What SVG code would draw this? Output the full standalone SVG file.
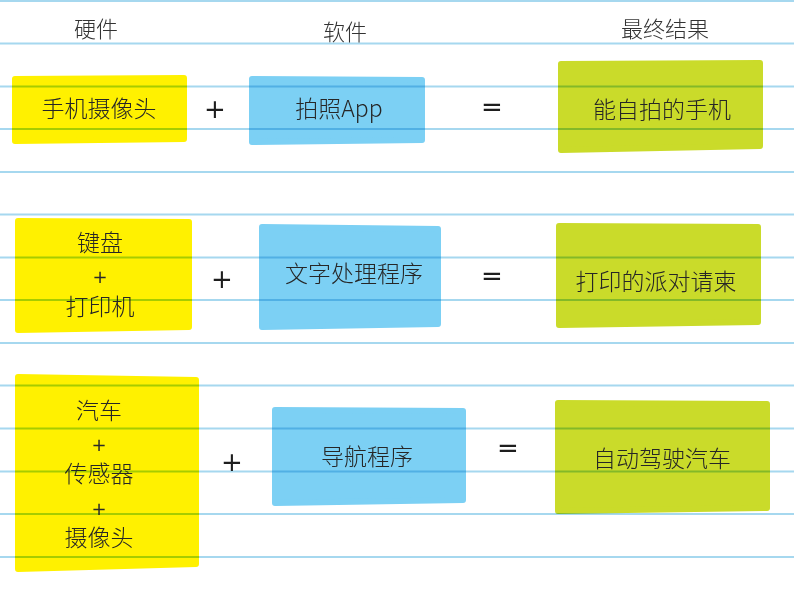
<svg xmlns="http://www.w3.org/2000/svg" width="794" height="589" viewBox="0 0 794 589">
<style>
.y{fill:#fff100;stroke:#fff100;stroke-width:6;stroke-linejoin:round}
.b{fill:#7cd0f4;stroke:#7cd0f4;stroke-width:6;stroke-linejoin:round}
.g{fill:#cadb2a;stroke:#cadb2a;stroke-width:6;stroke-linejoin:round}
.t{font-family:"Noto Sans CJK SC","Noto Sans",sans-serif;font-size:23px;font-weight:300;fill:#262626;text-anchor:middle}
.h{font-family:"Noto Sans CJK SC","Noto Sans",sans-serif;font-size:22px;font-weight:300;fill:#333333;text-anchor:middle}
.op{font-family:"DejaVu Sans",sans-serif;font-size:26px;fill:#1e1e1e;text-anchor:middle}
.sp{font-family:"DejaVu Sans",sans-serif;font-size:18px;fill:#2a2a2a;text-anchor:middle}
.ln{stroke:#a6d8ef;stroke-width:2;mix-blend-mode:multiply}
</style>
<rect width="794" height="589" fill="#ffffff"/>
<g id="headers">
<text class="h" x="96" y="37">硬件</text>
<text class="h" x="345" y="40">软件</text>
<text class="h" x="665" y="37">最终结果</text>
</g>
<g id="row1-hardware"><polygon class="y" points="15,79 184,78 184,139 15,141"/><text class="t" x="99" y="117">手机摄像头</text></g>
<g id="row1-software"><polygon class="b" points="252,79 422,80 422,140 252,142"/><text class="t" x="339" y="117">拍照App</text></g>
<g id="row1-result"><polygon class="g" points="561,64 760,63 760,146 561,150"/><text class="t" x="662" y="118">能自拍的手机</text></g>
<g id="row2-hardware"><polygon class="y" points="18,221 189,222 189,327 18,330"/><text class="t" x="100" y="251">键盘</text><text class="sp" x="100" y="283">+</text><text class="t" x="100" y="315">打印机</text></g>
<g id="row2-software"><polygon class="b" points="262,227 438,229 438,324 262,327"/><text class="t" x="354" y="282">文字处理程序</text></g>
<g id="row2-result"><polygon class="g" points="559,226 758,227 758,322 559,325"/><text class="t" x="656" y="290">打印的派对请柬</text></g>
<g id="row3-hardware"><polygon class="y" points="18,377 196,380 196,564 18,569"/><text class="t" x="99" y="419">汽车</text><text class="sp" x="99" y="451">+</text><text class="t" x="99" y="482">传感器</text><text class="sp" x="99" y="515">+</text><text class="t" x="99" y="546">摄像头</text></g>
<g id="row3-software"><polygon class="b" points="275,410 463,411 463,500 275,503"/><text class="t" x="367" y="465">导航程序</text></g>
<g id="row3-result"><polygon class="g" points="558,403 767,404 767,508 558,511"/><text class="t" x="662" y="467">自动驾驶汽车</text></g>
<g id="operators">
<text class="op" x="215" y="118">+</text>
<text class="op" x="492" y="116">=</text>
<text class="op" x="222" y="288">+</text>
<text class="op" x="492" y="285">=</text>
<text class="op" x="232" y="471">+</text>
<text class="op" x="508" y="457">=</text>
</g>
<g id="lines">
<line class="ln" x1="0" y1="1" x2="794" y2="1"/>
<line class="ln" x1="0" y1="43.5" x2="794" y2="43.5"/>
<line class="ln" x1="0" y1="86.5" x2="794" y2="86.5"/>
<line class="ln" x1="0" y1="129" x2="794" y2="129"/>
<line class="ln" x1="0" y1="172" x2="794" y2="172"/>
<line class="ln" x1="0" y1="214.5" x2="794" y2="214.5"/>
<line class="ln" x1="0" y1="257.5" x2="794" y2="257.5"/>
<line class="ln" x1="0" y1="300" x2="794" y2="300"/>
<line class="ln" x1="0" y1="343" x2="794" y2="343"/>
<line class="ln" x1="0" y1="385.5" x2="794" y2="385.5"/>
<line class="ln" x1="0" y1="428.5" x2="794" y2="428.5"/>
<line class="ln" x1="0" y1="471.5" x2="794" y2="471.5"/>
<line class="ln" x1="0" y1="514" x2="794" y2="514"/>
<line class="ln" x1="0" y1="557" x2="794" y2="557"/>
</g>
</svg>
